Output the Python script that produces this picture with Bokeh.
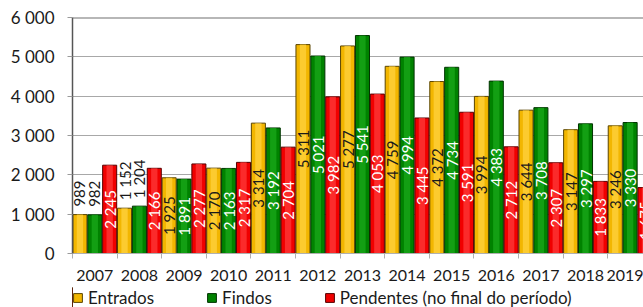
from bokeh.plotting import figure
from bokeh.layouts import column
from bokeh.models import (ColumnDataSource, FixedTicker, Legend, LegendItem, Span, Range1d, Label)
from bokeh.embed import file_html
from bokeh.resources import INLINE
from bokeh.core.properties import value
import math

title_text = "nos tribunais judiciais de 1ª instância, 2º trimestre"
years = ["2007", "2008", "2009", "2010", "2011", "2012", "2013", "2014", "2015", "2016", "2017", "2018", "2019"]
entrados = [989, 1152, 1925, 2170, 3314, 5311, 5277, 4759, 4372, 3994, 3644, 3147, 3246]
findos = [982, 1204, 1891, 2163, 3192, 5021, 5541, 4994, 4734, 4383, 3708, 3297, 3330]
pendentes = [2245, 2166, 2277, 2317, 2704, 3982, 4053, 3445, 3591, 2712, 2307, 1833, 1675]
y_ticks = [0, 1000, 2000, 3000, 4000, 5000, 6000]
y_tick_labels = ["0", "1 000", "2 000", "3 000", "4 000", "5 000", "6 000"]
series_names = ["Entrados", "Findos", "Pendentes (no final do período)"]

FONT = "Lato"
OUTSIDE_LIMIT = 1300
FRAME_H = 236

p = figure(width=643, height=287, output_backend="svg", toolbar_location=None,
           x_range=Range1d(0, 12.8), y_range=Range1d(0, 6000),
           min_border_left=72, min_border_right=0, min_border_top=17, min_border_bottom=34)
p.outline_line_color = None
p.background_fill_color = "white"
p.border_fill_color = "white"

styles = [
    ("#F2B600", "#5a4500", "#FFD23F", "#1a1a1a"),
    ("#008200", "#003300", "#19A819", "#ffffff"),
    ("#F00000", "#550000", "#FF3A3A", "#ffffff"),
]
offsets = [1 / 6, 0.5, 5 / 6]
bar_w = 0.315

for k, vals in enumerate([entrados, findos, pendentes]):
    base, edge, hi, lab = styles[k]
    xs = [i + offsets[k] for i in range(len(years))]
    src = ColumnDataSource(dict(x=xs, top=vals))
    p.vbar(x="x", top="top", bottom=0, width=bar_w, source=src,
           fill_color=base, line_color=edge, line_width=1)
    p.vbar(x="x", top="top", bottom=0, width=bar_w * 0.45, source=src,
           fill_color=hi, fill_alpha=0.75, line_color=None)
    inside = dict(x=[], y=[], t=[])
    outside = dict(x=[], y=[], t=[])
    for x, v in zip(xs, vals):
        s = f"{v:,}".replace(",", " ")
        if v < OUTSIDE_LIMIT:
            outside["x"].append(x); outside["y"].append(v); outside["t"].append(s)
        else:
            inside["x"].append(x); inside["y"].append(v / 2); inside["t"].append(s)
    p.text(x="x", y="y", text="t", source=ColumnDataSource(inside), angle=math.pi / 2,
           text_align="center", text_baseline="middle", text_color=lab,
           text_font=value(FONT), text_font_size="15px")
    p.text(x="x", y="y", text="t", source=ColumnDataSource(outside), angle=math.pi / 2,
           text_align="left", text_baseline="middle", text_color="#1a1a1a", y_offset=-8,
           text_font=value(FONT), text_font_size="15px")

p.yaxis.ticker = FixedTicker(ticks=y_ticks)
p.yaxis.major_label_overrides = {t: l for t, l in zip(y_ticks, y_tick_labels)}
p.yaxis.minor_tick_line_color = None
p.yaxis.major_tick_in = 0
p.yaxis.major_tick_out = 5
p.yaxis.major_tick_line_color = "#9a9a9a"
p.yaxis.axis_line_color = "#555555"
p.yaxis.axis_line_width = 1.5
p.yaxis.major_label_standoff = 13
p.yaxis.major_label_text_font = FONT
p.yaxis.major_label_text_font_size = "17px"
p.yaxis.major_label_text_color = "#1a1a1a"

centers = [i + 0.5 for i in range(len(years))]
bounds = [i for i in range(len(years) + 1)]
p.xaxis.ticker = FixedTicker(ticks=centers, minor_ticks=bounds)
p.xaxis.major_label_overrides = {c: y for c, y in zip(centers, years)}
p.xaxis.major_tick_line_color = None
p.xaxis.minor_tick_in = 0
p.xaxis.minor_tick_out = 5
p.xaxis.minor_tick_line_color = "#b0b0b0"
p.xaxis.axis_line_color = "#b0b0b0"
p.xaxis.major_label_standoff = 10
p.xaxis.major_label_text_font = FONT
p.xaxis.major_label_text_font_size = "16px"
p.xaxis.major_label_text_color = "#1a1a1a"

p.xgrid.grid_line_color = None
p.ygrid.ticker = FixedTicker(ticks=y_ticks)
p.ygrid.grid_line_color = "#a8a8a8"
p.ygrid.grid_line_width = 1

p.add_layout(Span(location=y_ticks[-1], dimension="width", line_color="#707070", line_width=2))

# partially visible title (cut by the top edge, as in the reference)
p.add_layout(Label(x=-72, y=FRAME_H + 12, x_units="screen", y_units="screen", text=title_text,
                   text_font=FONT, text_font_size="16px", text_font_style="bold",
                   text_color="#1a1a1a", text_baseline="alphabetic"))

# legend strip
p2 = figure(width=643, height=20, output_backend="svg", toolbar_location=None,
            x_range=Range1d(0, 1), y_range=Range1d(0, 1),
            x_axis_location=None, y_axis_location=None,
            min_border_left=61, min_border_right=0, min_border_top=0, min_border_bottom=0)
p2.outline_line_color = None
p2.grid.grid_line_color = None
p2.border_fill_color = "white"
leg_r = []
for k in range(3):
    base, edge, hi, lab = styles[k]
    # off-range proxy glyph, used only for the legend swatch
    leg_r.append(p2.vbar(x=[-5], top=[1], width=0.1, fill_color=base, line_color=edge, line_width=1))
legend = Legend(items=[LegendItem(label=n, renderers=[r]) for n, r in zip(series_names, leg_r)],
                orientation="horizontal", glyph_width=11, glyph_height=11, label_standoff=5,
                spacing=52, padding=0, margin=0, border_line_color=None, background_fill_alpha=0,
                label_text_font=FONT, label_text_font_size="17px", label_text_color="#1a1a1a",
                label_height=20, location="top_left")
p2.add_layout(legend, "center")

open("out.html", "w").write(file_html(column(p, p2, spacing=0), INLINE))
